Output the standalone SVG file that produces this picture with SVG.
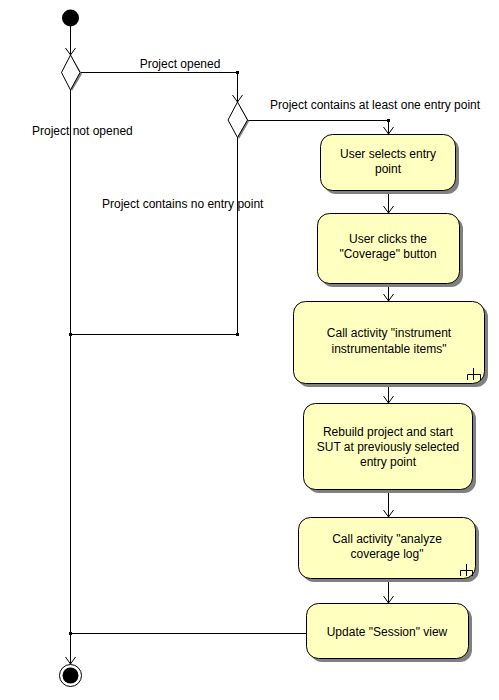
<svg xmlns="http://www.w3.org/2000/svg" width="499" height="700" viewBox="0 0 499 700">
<style>
.ln{stroke:#000;stroke-width:1;fill:none}
.box{fill:#ffffc0;stroke:#000;stroke-width:1}
.sh{fill:#808080;stroke:none}
.t{font-family:"Liberation Sans",Arial,sans-serif;font-size:12px;fill:#000}
.c{text-anchor:middle}
.dot{fill:#000}
</style>
<defs>
<marker id="arr" markerUnits="userSpaceOnUse" markerWidth="12" markerHeight="12" viewBox="-8 -6 10 12" refX="0" refY="0" orient="auto">
<path d="M-7,-5 L0,0 L-7,5" fill="none" stroke="#000" stroke-width="1"/>
</marker>
</defs>
<rect width="499" height="700" fill="#fff"/>

<g id="connectors">
<line class="ln" x1="70.5" y1="26" x2="70.5" y2="55" marker-end="url(#arr)"/>
<polyline class="ln" points="80,72.5 237.5,72.5 237.5,102" marker-end="url(#arr)"/>
<rect class="dot" x="236" y="71" width="3" height="3"/>
<polyline class="ln" points="247.5,120.5 388.5,120.5 388.5,134" marker-end="url(#arr)"/>
<rect class="dot" x="387" y="119" width="3" height="3"/>
<polyline class="ln" points="237.5,137 237.5,334.5 70.5,334.5"/>
<rect class="dot" x="236" y="333" width="3" height="3"/>
<rect class="dot" x="69" y="333" width="3" height="3"/>
<line class="ln" x1="70.5" y1="89" x2="70.5" y2="664" marker-end="url(#arr)"/>
<line class="ln" x1="306" y1="633.5" x2="70.5" y2="633.5"/>
<rect class="dot" x="69" y="632" width="3" height="3"/>
<line class="ln" x1="388.5" y1="190" x2="388.5" y2="213" marker-end="url(#arr)"/>
<line class="ln" x1="388.5" y1="283" x2="388.5" y2="301" marker-end="url(#arr)"/>
<line class="ln" x1="388.5" y1="383" x2="388.5" y2="403" marker-end="url(#arr)"/>
<line class="ln" x1="388.5" y1="489" x2="388.5" y2="517" marker-end="url(#arr)"/>
<line class="ln" x1="388.5" y1="578" x2="388.5" y2="603" marker-end="url(#arr)"/>
<text class="t" x="180" y="68" text-anchor="middle">Project opened</text>
<text class="t" x="32" y="135">Project not opened</text>
<text class="t" x="270" y="109">Project contains at least one entry point</text>
<text class="t" x="102" y="208">Project contains no entry point</text>
</g>

<g id="start">
<circle cx="70.5" cy="18" r="8.5" fill="#000"/>
</g>

<g id="decision1">
<polygon class="sh" points="72,57 82,74 72,91 63,74"/>
<polygon points="70.5,55 80,72.5 70.5,90 61.5,72.5" fill="#fff" stroke="#000"/>
</g>

<g id="decision2">
<polygon class="sh" points="239,104 249,121.5 239,139 230,121.5"/>
<polygon points="237.5,102 247.5,120 237.5,137.5 228,120" fill="#fff" stroke="#000"/>
</g>

<g id="a1">
<rect class="sh" x="324" y="138" width="135" height="56" rx="12"/>
<rect class="box" x="320.5" y="134.5" width="135" height="56" rx="12"/>
<text class="t c" x="388" y="158">User selects entry</text>
<text class="t c" x="388" y="173">point</text>
</g>

<g id="a2">
<rect class="sh" x="321" y="217" width="142" height="70" rx="12"/>
<rect class="box" x="317.5" y="213.5" width="142" height="70" rx="12"/>
<text class="t c" x="388" y="243">User clicks the</text>
<text class="t c" x="388" y="258">"Coverage" button</text>
</g>

<g id="a3">
<rect class="sh" x="297" y="305" width="191" height="82" rx="12"/>
<rect class="box" x="293.5" y="301.5" width="191" height="82" rx="12"/>
<text class="t c" x="389" y="337">Call activity "instrument</text>
<text class="t c" x="389" y="353">instrumentable items"</text>
<path class="ln" d="M473.5,368 V380 M467.5,380 V374.5 H480.5 V380"/>
</g>

<g id="a4">
<rect class="sh" x="307" y="407" width="169" height="86" rx="12"/>
<rect class="box" x="303.5" y="403.5" width="169" height="86" rx="12"/>
<text class="t c" x="388" y="436">Rebuild project and start</text>
<text class="t c" x="388" y="451">SUT at previously selected</text>
<text class="t c" x="388" y="466">entry point</text>
</g>

<g id="a5">
<rect class="sh" x="302" y="521" width="177" height="61" rx="12"/>
<rect class="box" x="298.5" y="517.5" width="177" height="61" rx="12"/>
<text class="t c" x="387" y="543">Call activity "analyze</text>
<text class="t c" x="387" y="558">coverage log"</text>
<path class="ln" d="M466.5,564 V576 M460.5,576 V570.5 H472.5 V576"/>
</g>

<g id="a6">
<rect class="sh" x="310" y="607" width="162" height="55" rx="12"/>
<rect class="box" x="306.5" y="603.5" width="162" height="55" rx="12"/>
<text class="t c" x="387" y="636">Update "Session" view</text>
</g>

<g id="end">
<circle cx="70.5" cy="675.5" r="11" fill="#fff" stroke="#000"/>
<circle cx="70.5" cy="675.5" r="8" fill="#000"/>
</g>
</svg>
